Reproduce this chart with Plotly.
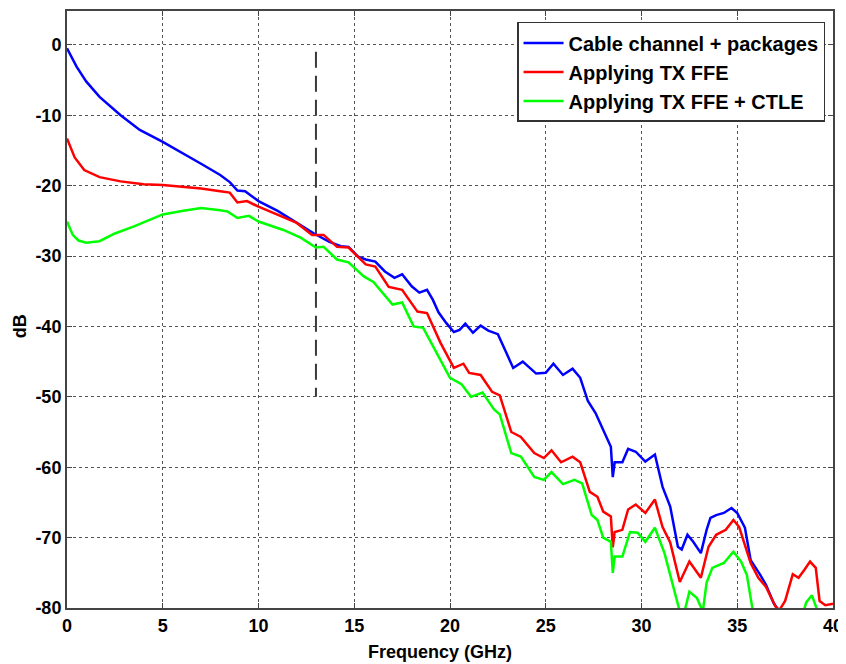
import plotly.graph_objects as go

# ---- data ----
blue_f = [0, 0.5, 1.0, 1.7, 2.8, 3.8, 5.0, 6.0, 7.0, 8.0, 8.5, 8.9, 9.3, 9.6, 10.0,
          11.0, 11.9, 12.9, 13.7, 14.3, 14.7, 15.2, 15.6, 16.1, 16.6, 17.1, 17.5,
          18.0, 18.4, 18.8, 19.1, 19.4, 19.8, 20.2, 20.5, 20.8, 21.2, 21.6, 22.0,
          22.5, 22.9, 23.3, 23.8, 24.5, 25.0, 25.4, 25.9, 26.4, 26.8, 27.2, 27.6,
          28.1, 28.4, 28.5, 28.6, 29.0, 29.3, 29.7, 30.2, 30.7, 31.1, 31.5, 31.9,
          32.1, 32.4, 32.7, 33.1, 33.4, 33.6, 33.9, 34.3, 34.7, 35.0, 35.4, 35.7,
          36.2, 36.5, 36.9, 37.2]
blue_db = [-0.5, -3.1, -5.2, -7.4, -10.0, -12.1, -13.8, -15.3, -16.9, -18.5, -19.5,
           -20.7, -20.8, -21.4, -22.2, -23.6, -25.1, -26.8, -28.0, -28.6, -28.7,
           -30.1, -30.5, -30.8, -32.2, -33.1, -32.6, -34.3, -35.2, -34.8, -36.2,
           -38.0, -39.5, -40.8, -40.5, -39.6, -40.9, -39.9, -40.6, -41.1, -43.5,
           -45.9, -45.0, -46.7, -46.6, -45.3, -46.9, -46.0, -47.3, -50.6, -52.3,
           -55.3, -57.1, -61.4, -59.3, -59.3, -57.4, -57.8, -59.2, -58.2, -62.8,
           -65.6, -71.3, -71.7, -69.6, -70.6, -72.2, -68.9, -67.2, -66.8, -66.5,
           -65.8, -66.5, -68.6, -73.2, -75.3, -76.7, -79.3, -80.5]

red_f = [0, 0.4, 0.9, 1.7, 2.8, 4.0, 5.0, 6.0, 7.0, 8.0, 8.5, 8.9, 9.4, 10.0, 11.0,
         12.0, 12.8, 13.4, 14.1, 14.7, 15.6, 16.1, 16.8, 17.5, 18.3, 18.8, 19.5,
         20.2, 20.7, 21.0, 21.6, 22.2, 22.6, 23.2, 23.7, 24.4, 24.9, 25.3, 25.8,
         26.4, 26.8, 27.3, 27.7, 28.0, 28.4, 28.5, 28.6, 29.0, 29.3, 29.7, 30.2,
         30.7, 31.1, 31.5, 32.0, 32.5, 33.1, 33.5, 33.9, 34.4, 34.8, 35.1, 35.7,
         36.1, 36.5, 37.0, 37.2, 37.5, 37.9, 38.2, 38.5, 38.8, 39.1, 39.3, 39.6, 40.0]
red_db = [-13.3, -16.0, -17.8, -18.8, -19.4, -19.8, -19.9, -20.1, -20.4, -20.8, -21.0,
          -22.4, -22.2, -23.0, -24.1, -25.3, -27.0, -27.0, -28.7, -28.8, -31.2,
          -31.5, -34.4, -34.8, -37.9, -38.1, -42.3, -45.9, -45.3, -46.6, -46.9,
          -49.3, -49.8, -55.0, -55.7, -58.0, -58.7, -57.6, -59.3, -58.5, -59.3,
          -63.5, -64.2, -66.3, -67.0, -71.4, -69.2, -68.9, -66.0, -65.3, -66.5,
          -64.6, -68.5, -70.7, -76.3, -73.4, -75.7, -71.3, -69.6, -68.9, -67.5,
          -68.5, -73.6, -75.7, -77.0, -79.8, -80.3, -79.0, -75.2, -75.7, -74.6,
          -73.4, -74.3, -79.0, -79.6, -79.4]

green_f = [0, 0.3, 0.6, 1.0, 1.7, 2.5, 3.5, 5.0, 6.0, 7.0, 8.0, 8.4, 8.9, 9.5, 10.0,
           11.3, 12.2, 13.0, 13.4, 14.1, 14.7, 15.5, 16.0, 17.0, 17.5, 18.1, 18.6,
           19.3, 20.0, 20.6, 21.1, 21.7, 22.3, 22.6, 23.2, 23.7, 24.4, 24.9, 25.3,
           25.9, 26.5, 26.9, 27.4, 27.7, 28.0, 28.4, 28.5, 28.6, 29.0, 29.4, 29.8,
           30.2, 30.7, 31.2, 31.6, 32.0, 32.2, 32.4, 32.5, 32.9, 33.2, 33.4, 33.7,
           34.3, 34.8, 35.2, 35.5, 35.8, 36.2, 38.3, 38.6, 38.9, 39.2, 39.5, 40.0]
green_db = [-25.1, -27.0, -27.8, -28.1, -27.9, -26.8, -25.8, -24.1, -23.6, -23.2,
            -23.5, -23.7, -24.6, -24.3, -25.1, -26.3, -27.4, -28.8, -28.7, -30.5,
            -30.9, -32.9, -33.7, -36.9, -36.6, -40.0, -40.2, -43.8, -47.3, -48.2,
            -50.0, -49.4, -51.8, -52.5, -58.0, -58.5, -61.4, -61.8, -60.7, -62.4,
            -61.8, -62.3, -66.8, -67.5, -70.0, -70.6, -75.0, -72.7, -72.7, -69.2,
            -69.3, -70.6, -68.6, -72.2, -76.4, -80.5, -81.0, -78.8, -77.7, -78.6,
            -80.5, -76.4, -74.3, -73.6, -72.0, -73.4, -75.3, -80.2, -82.0, -82.0,
            -79.2, -78.2, -80.5, -82.0, -82.0]

names = ["Cable channel + packages", "Applying TX FFE", "Applying TX FFE + CTLE"]
colors = ["#0000ff", "#ff0000", "#00ff00"]

marker_f = [13, 13]
marker_db = [-1, -50]

x_ticks = [0, 5, 10, 15, 20, 25, 30, 35, 40]
x_labels = ["0", "5", "10", "15", "20", "25", "30", "35", "40"]
y_ticks = [0, -10, -20, -30, -40, -50, -60, -70, -80]
y_labels = ["0", "-10", "-20", "-30", "-40", "-50", "-60", "-70", "-80"]

FONT = "Liberation Sans, Arial, sans-serif"
bold = lambda s: dict(family=FONT, size=s, color='black', weight='bold')

fig = go.Figure()

fig.add_trace(go.Scatter(x=marker_f, y=marker_db, mode='lines',
                         line=dict(color='#3a3a3a', width=2, dash='16px,8px'),
                         showlegend=False, hoverinfo='skip'))

for i, (xs, ys) in enumerate([(blue_f, blue_db), (red_f, red_db), (green_f, green_db)]):
    fig.add_trace(go.Scatter(x=xs, y=ys, mode='lines', name=names[i],
                             legendgroup=str(i),
                             line=dict(color=colors[i], width=2.5)))

axis_common = dict(
    showgrid=True,
    gridcolor='#555555',
    griddash='dot',
    gridwidth=1,
    zeroline=False,
    showline=True,
    linecolor='#444444',
    linewidth=2,
    mirror='ticks',
    ticks='inside',
    ticklen=5,
    tickcolor='#444444',
    tickfont=bold(18),
    automargin=False,
)

fig.update_xaxes(range=[0, 40], tickvals=x_ticks, ticktext=x_labels, **axis_common)
fig.update_yaxes(range=[-80, 4.8], tickvals=y_ticks, ticktext=y_labels, **axis_common)

# axis titles
fig.add_annotation(text='Frequency (GHz)', xref='paper', yref='paper',
                   x=0.487, y=-0.074, xanchor='center', yanchor='middle',
                   showarrow=False, font=bold(18))
fig.add_annotation(text='dB', xref='paper', yref='paper', textangle=-90,
                   x=-0.062, y=0.471, xanchor='center', yanchor='middle',
                   showarrow=False, font=bold(18))

fig.update_layout(
    width=846, height=664,
    margin=dict(l=59, r=21, t=3, b=64),
    plot_bgcolor='white',
    paper_bgcolor='white',
    legend=dict(
        x=0.9896, y=0.9816, xanchor='right', yanchor='top',
        bgcolor='white', bordercolor='#333333', borderwidth=1.5,
        font=bold(20),
        traceorder='grouped', tracegroupgap=0,
        itemwidth=40,
    ),
)

fig.write_html("out.html")
